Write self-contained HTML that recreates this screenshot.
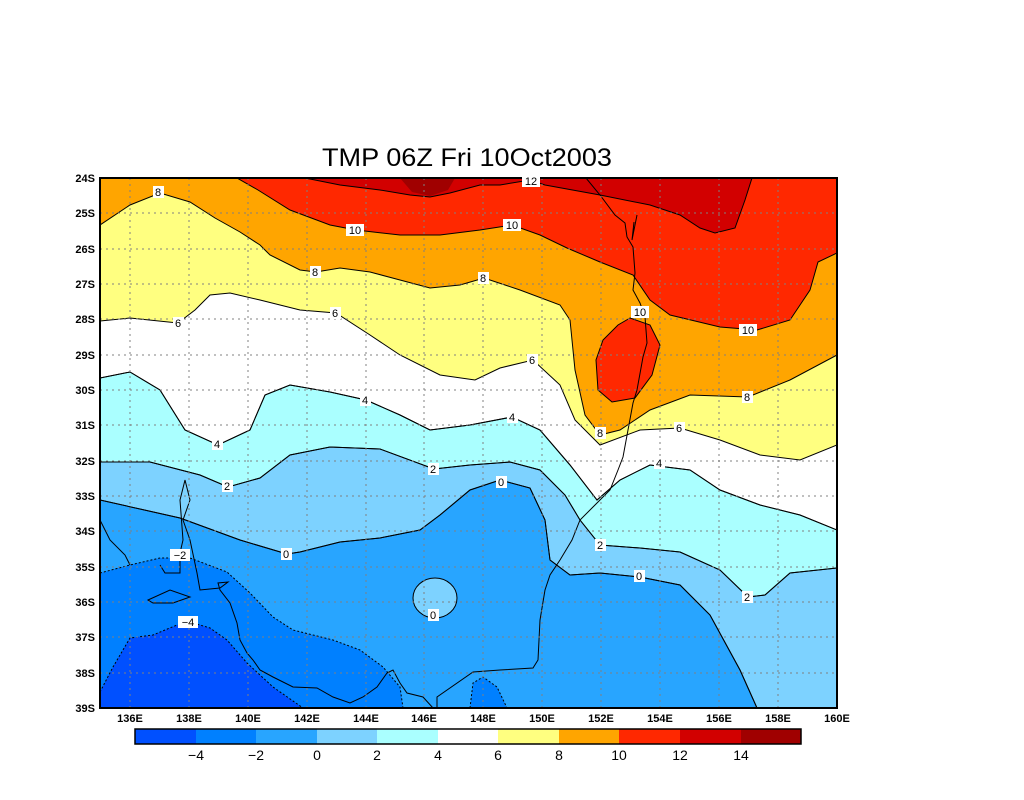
<!DOCTYPE html>
<html><head><meta charset="utf-8"><style>
html,body{margin:0;padding:0;background:#fff;}
svg{display:block;font-family:"Liberation Sans",sans-serif;}
.lbl{font-size:11px;fill:#000;}
.tk{font-size:11px;font-weight:bold;fill:#000;}
</style></head><body>
<svg width="1024" height="800" viewBox="0 0 1024 800" xmlns="http://www.w3.org/2000/svg">
<rect width="1024" height="800" fill="#fff"/>
<defs><clipPath id="c"><rect x="100" y="178" width="737" height="530"/></clipPath></defs>
<g clip-path="url(#c)" stroke="#000" stroke-width="1">
<rect x="100" y="178" width="737" height="530" fill="#28a5ff" stroke="none"/>
<polygon fill="#7dd2ff" points="100,178 837,178 837,708 757,708 740,670 710,615 680,585 640,577 600,573 570,575 550,560 545,520 530,488 500,480 470,490 440,515 420,530 380,538 340,542 300,552 287,554 240,540 180,518 100,500"/>
<ellipse cx="435" cy="598" rx="22" ry="20" fill="#7dd2ff"/>
<polygon fill="#aaffff" points="100,178 837,178 837,568 790,573 765,595 748,597 720,570 680,552 640,548 600,545 580,520 565,495 540,470 510,462 470,465 434,469 380,449 330,447 290,455 260,478 228,487 200,475 150,462 100,462"/>
<polygon fill="#ffffff" points="100,178 837,178 837,530 800,515 760,505 720,490 690,470 650,465 620,480 597,500 570,465 540,430 512,417 470,425 430,430 400,415 366,400 330,392 290,385 265,395 250,430 218,445 185,430 160,390 130,372 100,378"/>
<polygon fill="#ffff80" points="100,178 837,178 837,445 800,460 760,455 720,440 680,428 640,430 600,445 575,420 560,385 533,360 500,368 475,380 440,375 400,355 370,335 336,313 300,310 260,300 230,293 210,295 195,310 178,323 130,318 100,321"/>
<polygon fill="#ffa500" points="100,178 837,178 837,355 790,380 748,397 690,395 650,410 620,430 600,435 585,415 575,370 570,320 560,305 520,290 484,278 460,285 430,288 400,280 370,272 340,268 316,272 300,270 270,255 260,245 240,232 215,218 190,202 160,193 130,205 100,225"/>
<polygon fill="#ff2800" points="237,178 837,178 837,253 818,262 810,290 790,320 757,330 720,327 670,315 650,300 633,275 600,262 567,248 540,235 512,225 480,230 440,235 400,235 356,230 330,225 290,210 258,190"/>
<polygon fill="#ff2800" points="630,318 650,325 660,345 652,375 635,398 612,402 598,390 596,360 603,340 618,325"/>
<polygon fill="#d20000" points="305,178 752,178 745,200 735,228 715,233 700,228 680,215 650,205 600,195 545,185 530,180 500,185 480,185 450,193 430,197 410,195 380,190 340,185"/>
<polygon fill="#a00000" stroke="none" points="400,178 455,178 448,190 430,196 412,192"/>
<polygon fill="#0080ff" stroke-dasharray="2,2" points="100,573 130,565 160,558 190,558 227,572 250,593 273,617 293,630 333,640 360,650 383,667 400,687 403,708 100,708"/>
<polygon fill="#0080ff" stroke-dasharray="2,2" points="470,708 473,683 483,677 497,687 507,708"/>
<polygon fill="#0050ff" stroke-dasharray="2,2" points="100,692 113,667 130,638 153,635 177,625 190,622 210,628 227,640 247,663 273,687 303,708 100,708"/>
<g fill="none">
<polyline points="586,178 600,195 615,215 625,223 627,237 633,247 635,273 633,290 640,303 645,317 647,343 643,357 637,390 633,403 628,430 623,457 618,470 610,490 595,505 580,520 572,540 560,560 550,575 545,590 540,620 538,660 533,668 500,670 473,672 437,697 437,708"/>
<polyline points="637,215 632,240 634,222"/>
<polyline points="433,708 423,697 407,693 400,683 393,670 387,673 377,687 363,697 350,703 333,697 317,688 293,687 273,677 260,670 253,660 247,653 240,640 237,623 230,603 220,590 218,583 228,582 220,588 200,590 197,573 190,540 183,520 190,500 185,480 180,500 183,540 180,553 180,573 165,573 160,565"/>
<polyline points="100,520 110,540 125,555 130,565"/>
<polygon points="148,600 170,590 190,597 173,603 153,603"/>
<polyline points="757,708 740,670 710,615 680,585 640,577 600,573 570,575 550,560 545,520 530,488 500,480 470,490 440,515 420,530 380,538 340,542 300,552 287,554 240,540 180,518 100,500"/>
<polyline points="837,568 790,573 765,595 748,597 720,570 680,552 640,548 600,545 580,520 565,495 540,470 510,462 470,465 434,469 380,449 330,447 290,455 260,478 228,487 200,475 150,462 100,462"/>
<polyline points="837,530 800,515 760,505 720,490 690,470 650,465 620,480 597,500 570,465 540,430 512,417 470,425 430,430 400,415 366,400 330,392 290,385 265,395 250,430 218,445 185,430 160,390 130,372 100,378"/>
</g>
<g stroke="#808080" stroke-dasharray="2,4" fill="none">
<path d="M130,178V708M189,178V708M248,178V708M307,178V708M366,178V708M424,178V708M483,178V708M542,178V708M601,178V708M660,178V708M719,178V708M778,178V708"/>
<path d="M100,213H837M100,249H837M100,284H837M100,319H837M100,355H837M100,390H837M100,425H837M100,461H837M100,496H837M100,531H837M100,567H837M100,602H837M100,637H837M100,673H837"/>
</g>
</g>
<rect x="100" y="178" width="737" height="530" fill="none" stroke="#000" stroke-width="2"/>
<g class="lbl" text-anchor="middle">
<g fill="#fff" stroke="none">
<rect x="153" y="186" width="11" height="12"/><rect x="173" y="317" width="11" height="12"/><rect x="212" y="438" width="11" height="12"/><rect x="222" y="480" width="11" height="12"/>
<rect x="281" y="548" width="11" height="12"/><rect x="170" y="549" width="20" height="12"/><rect x="178" y="616" width="20" height="12"/><rect x="428" y="609" width="11" height="12"/>
<rect x="310" y="266" width="11" height="12"/><rect x="330" y="307" width="11" height="12"/><rect x="360" y="394" width="11" height="12"/><rect x="428" y="463" width="11" height="12"/>
<rect x="496" y="476" width="11" height="12"/><rect x="507" y="411" width="11" height="12"/><rect x="527" y="354" width="11" height="12"/><rect x="478" y="272" width="11" height="12"/>
<rect x="346" y="224" width="18" height="12"/><rect x="503" y="219" width="18" height="12"/><rect x="522" y="175" width="18" height="12"/><rect x="595" y="427" width="11" height="12"/>
<rect x="631" y="306" width="18" height="12"/><rect x="739" y="324" width="18" height="12"/><rect x="742" y="391" width="11" height="12"/><rect x="674" y="422" width="11" height="12"/>
<rect x="654" y="457" width="11" height="12"/><rect x="595" y="539" width="11" height="12"/><rect x="634" y="570" width="11" height="12"/><rect x="742" y="591" width="11" height="12"/>
</g>
<text x="158" y="196">8</text><text x="178" y="327">6</text><text x="217" y="448">4</text><text x="227" y="490">2</text>
<text x="286" y="558">0</text><text x="180" y="559">−2</text><text x="188" y="626">−4</text><text x="433" y="619">0</text>
<text x="315" y="276">8</text><text x="335" y="317">6</text><text x="365" y="404">4</text><text x="433" y="473">2</text>
<text x="501" y="486">0</text><text x="512" y="421">4</text><text x="532" y="364">6</text><text x="483" y="282">8</text>
<text x="355" y="234">10</text><text x="512" y="229">10</text><text x="531" y="185">12</text><text x="600" y="437">8</text>
<text x="640" y="316">10</text><text x="748" y="334">10</text><text x="747" y="401">8</text><text x="679" y="432">6</text>
<text x="659" y="467">4</text><text x="600" y="549">2</text><text x="639" y="580">0</text><text x="747" y="601">2</text>
</g>
<g class="tk" text-anchor="end">
<text x="95" y="182">24S</text><text x="95" y="217">25S</text><text x="95" y="253">26S</text><text x="95" y="288">27S</text><text x="95" y="323">28S</text><text x="95" y="359">29S</text><text x="95" y="394">30S</text><text x="95" y="429">31S</text><text x="95" y="465">32S</text><text x="95" y="500">33S</text><text x="95" y="535">34S</text><text x="95" y="571">35S</text><text x="95" y="606">36S</text><text x="95" y="641">37S</text><text x="95" y="677">38S</text><text x="95" y="712">39S</text>
</g>
<g class="tk" text-anchor="middle">
<text x="130" y="722">136E</text><text x="189" y="722">138E</text><text x="248" y="722">140E</text><text x="307" y="722">142E</text><text x="366" y="722">144E</text><text x="424" y="722">146E</text><text x="483" y="722">148E</text><text x="542" y="722">150E</text><text x="601" y="722">152E</text><text x="660" y="722">154E</text><text x="719" y="722">156E</text><text x="778" y="722">158E</text><text x="837" y="722">160E</text>
</g>
<g stroke="none">
<rect x="135" y="729" width="61" height="15" fill="#0050ff"/><rect x="196" y="729" width="60" height="15" fill="#0080ff"/><rect x="256" y="729" width="61" height="15" fill="#28a5ff"/><rect x="317" y="729" width="60" height="15" fill="#7dd2ff"/><rect x="377" y="729" width="61" height="15" fill="#aaffff"/><rect x="438" y="729" width="60" height="15" fill="#ffffff"/><rect x="498" y="729" width="61" height="15" fill="#ffff80"/><rect x="559" y="729" width="60" height="15" fill="#ffa500"/><rect x="619" y="729" width="61" height="15" fill="#ff2800"/><rect x="680" y="729" width="61" height="15" fill="#d20000"/><rect x="741" y="729" width="60" height="15" fill="#a00000"/>
</g>
<rect x="135" y="729" width="666" height="15" fill="none" stroke="#000" stroke-width="1.5"/>
<g text-anchor="middle" font-size="14" fill="#000">
<text x="196" y="760">−4</text><text x="256" y="760">−2</text><text x="317" y="760">0</text><text x="377" y="760">2</text><text x="438" y="760">4</text><text x="498" y="760">6</text><text x="559" y="760">8</text><text x="619" y="760">10</text><text x="680" y="760">12</text><text x="741" y="760">14</text>
</g>
<text x="467" y="166" text-anchor="middle" font-size="25" fill="#000" textLength="290" lengthAdjust="spacingAndGlyphs">TMP 06Z Fri 10Oct2003</text>
</svg>
</body></html>
